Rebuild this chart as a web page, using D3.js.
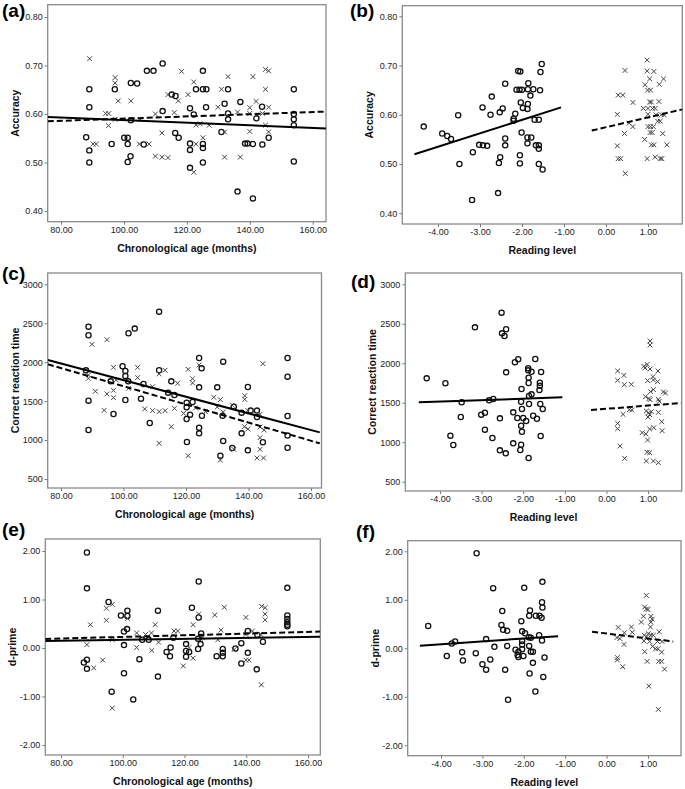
<!DOCTYPE html>
<html>
<head>
<meta charset="utf-8">
<title>Accuracy, reaction time and d-prime by age and reading level</title>
<script src="https://cdnjs.cloudflare.com/ajax/libs/d3/7.8.5/d3.min.js"></script>
<style>
    body { margin: 0; background: #fff; }
    svg text { font-family: Arial, "Liberation Sans", sans-serif; }
    .tick text { font-size: 9px; fill: #222; }
    .tick line { stroke: #777; }
    .frame { fill: none; stroke: #8a8a8a; stroke-width: 1.3px; }
    .axis-title { font-size: 10.5px; font-weight: bold; fill: #111; }
    .panel-label { font-size: 19px; font-weight: bold; fill: #000; }
    .circle { fill: none; stroke: #111; stroke-width: 1.3px; }
    .cross { fill: none; stroke: #444; stroke-width: 1px; }
    .fit { fill: none; stroke: #000; stroke-width: 2px; }
</style>
</head>
<body>
<svg id="chart" width="685" height="789"></svg>
<script>
// ---- data: circles = first group, crosses = second group ----
// (a) accuracy vs chronological age
const aCircles = [[89.0,0.651],[89.0,0.614],[88.0,0.552],[89.0,0.525],[89.0,0.500],[97.1,0.651],[96.1,0.538],[102.2,0.664],[104.2,0.663],[107.3,0.689],[109.4,0.689],[112.3,0.704],[112.3,0.606],[102.2,0.587],[100.1,0.551],[101.2,0.551],[101.2,0.538],[102.1,0.513],[101.2,0.501],[106.3,0.537],[115.2,0.640],[116.4,0.637],[116.3,0.561],[117.4,0.551],
    [125.1,0.689],[122.9,0.651],[125.1,0.651],[126.2,0.651],[133.1,0.651],[154.0,0.651],[121.0,0.612],[126.1,0.614],[132.0,0.621],[137.0,0.625],[122.2,0.599],[133.1,0.601],[133.1,0.589],[143.9,0.615],[142.1,0.591],[154.0,0.600],[154.0,0.589],[154.0,0.577],[131.0,0.563],[121.0,0.539],[121.0,0.526],[125.1,0.538],[125.1,0.530],[138.5,0.539],[139.3,0.539],[141.0,0.538],[144.0,0.537],[146.0,0.551],[125.1,0.500],[121.0,0.489],[154.0,0.502],[136.1,0.440],[141.0,0.426]];
const aCrosses = [[89.1,0.714],[97.2,0.675],[97.2,0.664],[98.2,0.627],[102.2,0.627],[94.2,0.601],[95.2,0.601],[95.1,0.576],[97.2,0.589],[90.2,0.538],[91.2,0.538],[104.9,0.538],[108.0,0.538],[110.0,0.600],[112.1,0.561],[110.0,0.513],[112.1,0.511],[114.0,0.510],[114.0,0.640],[116.0,0.603],[117.3,0.627],[118.3,0.688],[120.4,0.640],[105.2,0.589],
    [122.2,0.666],[133.1,0.677],[141.0,0.677],[145.0,0.692],[146.0,0.689],[131.0,0.651],[145.0,0.651],[129.9,0.614],[136.1,0.604],[140.0,0.613],[142.0,0.626],[140.0,0.601],[144.0,0.601],[146.0,0.614],[122.9,0.577],[124.2,0.580],[127.1,0.577],[145.0,0.577],[132.0,0.563],[140.0,0.564],[146.0,0.563],[122.9,0.538],[125.1,0.551],[132.0,0.511],[137.0,0.511],[122.2,0.480]];
const aSolid = [[75.8,0.594],[164.2,0.570]];
const aDashed = [[75.8,0.585],[164.2,0.605]];

// (b) accuracy vs reading level
const bCircles = [[-4.34,0.576],[-3.90,0.562],[-3.78,0.557],[-3.69,0.551],[-3.52,0.599],[-3.49,0.500],[-3.17,0.524],[-3.19,0.427],[-3.02,0.539],[-2.93,0.538],[-2.83,0.537],[-2.94,0.615],[-2.75,0.600],[-2.72,0.637],[-2.53,0.605],[-2.46,0.613],[-2.40,0.663],[-2.40,0.552],[-2.40,0.538],[-2.52,0.514],[-2.55,0.502],[-2.57,0.441],
    [-2.09,0.689],[-2.04,0.688],[-2.13,0.651],[-2.06,0.651],[-2.00,0.651],[-1.86,0.652],[-1.73,0.652],[-1.57,0.650],[-1.85,0.664],[-1.80,0.639],[-1.56,0.687],[-1.53,0.703],[-2.03,0.625],[-1.86,0.622],[-1.98,0.614],[-1.87,0.612],[-2.16,0.602],[-2.20,0.592],[-2.20,0.588],[-1.70,0.590],[-1.60,0.590],[-2.01,0.564],[-1.87,0.554],[-1.78,0.554],[-1.87,0.542],[-1.67,0.538],[-1.60,0.538],[-1.60,0.531],[-2.05,0.518],[-2.05,0.501],[-1.60,0.500],[-1.51,0.489]];
const bCrosses = [[0.98,0.711],[0.45,0.690],[0.98,0.689],[1.14,0.688],[1.04,0.673],[1.37,0.673],[0.93,0.661],[1.27,0.662],[0.99,0.650],[1.06,0.650],[0.29,0.640],[0.40,0.640],[0.64,0.625],[1.04,0.626],[1.08,0.626],[1.26,0.627],[0.89,0.613],[1.00,0.613],[1.11,0.613],[1.17,0.613],[0.27,0.601],[1.00,0.601],[1.19,0.600],[1.32,0.600],[1.38,0.600],[1.23,0.587],[1.29,0.587],[0.55,0.583],[0.64,0.576],[1.00,0.576],[1.06,0.576],[1.13,0.576],[0.44,0.562],[1.05,0.564],[1.10,0.564],[1.35,0.562],[0.92,0.550],[1.08,0.539],[1.14,0.539],[1.45,0.539],[0.27,0.537],[0.29,0.511],[0.35,0.511],[0.98,0.511],[1.17,0.514],[1.29,0.511],[1.33,0.511],[0.46,0.481]];
const bSolid = [[-4.56,0.520],[-1.07,0.615]];
const bDashed = [[-0.34,0.568],[1.82,0.611]];

// (c) correct reaction time vs chronological age
const cCircles = [[88.8,2456],[88.8,2345],[88.8,1506],[88.8,1129],[88.0,1895],[95.9,1754],[96.8,1335],[99.7,1947],[100.6,1887],[100.6,1823],[101.5,1754],[101.6,2371],[103.6,2431],[100.6,1514],[105.6,1532],[106.4,1720],[108.4,1219],[111.4,2649],[111.4,1896],[115.3,1754],[114.3,1609],[116.3,1579],[120.3,975],
    [124.2,2054],[125.0,1921],[131.9,2007],[152.5,2054],[152.5,1814],[124.2,1677],[130.0,1677],[139.8,1681],[120.2,1480],[120.2,1420],[122.1,1489],[120.2,1270],[121.3,1326],[125.1,1313],[131.7,1313],[135.3,1429],[137.8,1352],[140.7,1378],[142.7,1378],[142.7,1296],[152.5,1309],[124.2,1159],[124.2,1086],[137.8,1086],[144.6,971],[152.5,1057],[152.5,902],[131.9,988],[134.8,898],[139.8,868],[131.0,800]];
const cCrosses = [[89.9,2229],[94.7,2289],[88.8,1836],[88.8,1793],[91.0,1626],[93.8,1382],[94.7,1592],[96.8,1639],[96.8,1544],[96.8,1934],[97.7,1771],[101.6,1664],[104.5,1934],[104.5,1801],[106.8,1399],[109.3,1686],[109.3,1378],[111.4,1365],[113.3,1378],[113.3,1896],[111.4,1849],[115.3,1172],[116.3,1407],[117.3,1729],[119.2,1343],[111.4,958],[120.7,800],[120.7,1908],
    [124.2,1964],[122.1,1788],[122.1,1733],[128.9,1549],[131.0,1519],[130.0,1424],[123.1,1412],[134.8,1446],[138.8,1570],[138.8,1523],[139.8,1378],[144.6,1981],[126.2,1365],[131.9,1360],[143.7,1330],[143.7,1168],[145.0,1129],[138.7,1172],[139.8,1142],[143.7,1031],[135.3,881],[143.7,881],[142.7,770],[144.8,770],[131.0,744]];
const cSolid = [[75.8,2028],[162.8,1099]];
const cDashed = [[75.8,1973],[162.8,958]];

// (d) correct reaction time vs reading level
const dCircles = [[-4.32,1809],[-3.87,1746],[-3.48,1505],[-3.50,1319],[-3.75,1083],[-3.68,965],[-3.16,2455],[-3.01,1349],[-2.92,1374],[-2.92,1159],[-2.82,1530],[-2.72,1547],[-2.74,1053],[-2.56,1302],[-2.52,2641],[-2.51,2379],[-2.45,2345],[-2.41,2430],[-2.41,1885],[-2.56,897],[-2.42,859],[-2.24,1378],[-2.24,986],
    [-2.12,2050],[-2.20,2012],[-1.71,2054],[-1.88,1936],[-1.88,1910],[-1.80,1893],[-1.57,1889],[-1.87,1818],[-1.87,1750],[-1.60,1754],[-1.60,1716],[-1.61,1661],[-2.04,1674],[-1.80,1606],[-1.86,1585],[-2.05,1513],[-1.86,1484],[-1.59,1484],[-1.53,1421],[-2.03,1421],[-2.14,1307],[-2.00,1307],[-1.93,1269],[-1.76,1336],[-1.67,1298],[-2.05,1209],[-2.03,1133],[-1.58,1079],[-2.05,969],[-2.07,901],[-1.87,800]];
const dCrosses = [[1.05,2282],[1.05,2231],[0.27,1902],[0.27,1784],[0.42,1847],[0.43,1729],[0.60,1733],[0.90,1961],[0.98,1986],[0.93,1940],[1.05,1927],[0.99,1780],[1.12,1830],[1.13,1788],[1.24,1902],[1.23,1767],[0.94,1577],[1.02,1552],[1.05,1539],[1.06,1640],[1.13,1666],[1.25,1543],[1.27,1518],[1.37,1636],[1.42,1623],[0.55,1412],[0.61,1408],[0.40,1353],[0.96,1395],[1.01,1370],[1.04,1349],[1.00,1319],[1.08,1387],[1.25,1378],[1.33,1260],[0.27,1239],[0.27,1171],[1.04,1167],[1.14,1184],[0.86,1121],[0.95,1104],[1.34,1146],[0.99,1028],[0.33,952],[0.44,796],[0.98,872],[1.04,867],[0.96,762],[1.13,762],[1.25,741]];
const dSolid = [[-4.51,1505],[-1.06,1568]];
const dDashed = [[-0.37,1408],[1.79,1497]];

// (e) d-prime vs chronological age
const eCircles = [[88.4,1.97],[88.4,1.23],[95.4,0.95],[99.4,0.67],[101.5,0.77],[101.5,0.66],[101.4,0.39],[100.4,0.34],[100.4,0.06],[111.4,0.77],[88.4,-0.24],[87.4,-0.30],[88.4,-0.43],[105.4,-0.23],[100.4,-0.52],[96.4,-0.90],[103.4,-1.06],[111.4,-0.59],[106.3,0.17],[108.4,0.17],[114.2,-0.08],[115.5,0.01],[115.3,-0.17],[116.4,0.21],[120.5,0.08],[120.5,-0.06],[120.5,-0.18],
    [124.6,1.37],[122.4,0.83],[124.6,0.63],[153.3,1.24],[153.3,0.67],[153.3,0.60],[153.3,0.53],[153.3,0.48],[153.3,0.45],[125.4,0.30],[124.4,0.19],[121.5,-0.08],[124.4,-0.02],[125.2,0.08],[132.4,-0.02],[132.4,-0.10],[132.4,-0.17],[130.4,-0.17],[136.5,-0.01],[138.4,0.10],[140.5,0.35],[138.4,-0.32],[140.5,-0.10],[143.4,-0.44],[143.6,0.27],[145.4,0.13]];
const eCrosses = [[94.7,0.82],[96.6,0.90],[94.7,0.57],[89.5,0.48],[88.4,0.07],[90.6,-0.41],[93.5,-0.25],[96.6,-1.24],[101.5,0.61],[96.6,0.17],[104.5,0.31],[104.5,0.01],[107.4,0.28],[109.3,0.31],[109.4,-0.05],[110.5,0.48],[111.6,0.12],[116.6,0.35],[117.8,0.35],[119.6,-0.37],
    [124.6,0.70],[122.8,0.48],[129.8,0.68],[132.9,0.84],[139.9,0.63],[145.0,0.86],[146.1,0.83],[146.1,0.70],[146.1,0.58],[122.8,-0.21],[131.8,0.37],[130.8,0.17],[125.8,0.21],[125.1,0.20],[121.5,0.01],[136.1,-0.03],[139.9,0.28],[142.0,0.35],[139.9,-0.25],[140.9,-0.25],[144.7,0.28],[144.9,-0.76]];
const eSolid = [[74.9,0.145],[164.0,0.234]];
const eDashed = [[74.9,0.186],[164.0,0.338]];

// (f) d-prime vs reading level
const fCircles = [[-4.31,0.46],[-3.86,-0.16],[-3.74,0.10],[-3.66,0.14],[-3.49,-0.08],[-3.47,-0.25],[-3.16,-0.10],[-3.14,1.96],[-2.91,0.19],[-3.00,-0.33],[-2.91,-0.44],[-2.81,-0.23],[-2.74,1.24],[-2.71,0.03],[-2.52,0.77],[-2.54,0.48],[-2.50,0.38],[-2.40,0.36],[-2.40,0.05],[-2.45,-0.44],[-2.38,-1.06],
    [-1.99,1.25],[-1.55,1.37],[-1.56,0.95],[-1.55,0.84],[-1.85,0.78],[-1.87,0.67],[-1.71,0.67],[-1.62,0.67],[-1.57,0.63],[-2.06,0.56],[-2.04,0.35],[-1.97,0.31],[-1.63,0.27],[-1.88,0.23],[-1.83,0.22],[-2.04,0.15],[-2.04,0.08],[-1.56,0.16],[-2.20,-0.03],[-2.13,-0.07],[-2.04,-0.02],[-1.87,0.05],[-1.83,-0.07],[-1.78,-0.07],[-2.15,-0.14],[-2.13,-0.18],[-2.01,-0.16],[-1.78,-0.30],[-1.50,-0.19],[-1.86,-0.52],[-1.53,-0.59],[-1.72,-0.89]];
const fCrosses = [[0.96,1.09],[0.92,0.85],[0.96,0.81],[1.00,0.80],[0.89,0.66],[1.07,0.66],[1.10,0.60],[0.84,0.54],[1.07,0.54],[1.06,0.44],[0.60,0.44],[0.62,0.33],[0.28,0.43],[0.43,0.32],[0.25,0.22],[0.32,0.20],[0.42,0.08],[0.91,0.27],[0.96,0.23],[1.01,0.30],[1.07,0.27],[1.13,0.27],[1.27,0.34],[0.90,0.15],[1.04,0.14],[1.23,0.14],[1.34,0.14],[1.11,0.04],[1.18,-0.01],[1.24,-0.01],[1.33,-0.08],[0.92,-0.07],[0.26,-0.19],[0.26,-0.24],[0.39,-0.38],[0.98,-0.27],[1.26,-0.27],[1.33,-0.27],[1.40,-0.43],[1.02,-0.78],[1.25,-1.26]];
const fSolid = [[-4.51,0.055],[-1.17,0.25]];
const fDashed = [[-0.35,0.34],[1.61,0.14]];

// tick values
const ageTicks = [80, 100, 120, 140, 160];
const readingTicks = [-4, -3, -2, -1, 0, 1];
const accuracyTicks = [0.4, 0.5, 0.6, 0.7, 0.8];
const rtTicks = [500, 1000, 1500, 2000, 2500, 3000];
const dprimeTicks = [-2, -1, 0, 1, 2];

const fmt2 = d => d.toFixed(2);
const fmt0 = d => String(d);

// ---- layout per panel (frame box + pixel anchors for the scales) ----
const panels = [
    { label: "(a)", lab: [2, 17], frame: [47.7, 4.7, 326, 221.7],
      xRef: [80, 160], xPix: [61, 312.7], yRef: [0.4, 0.8], yPix: [211, 17],
      xTicks: ageTicks, yTicks: accuracyTicks, xFmt: fmt2, yFmt: fmt2,
      xTitle: "Chronological age (months)", yTitle: "Accuracy",
      circles: aCircles, crosses: aCrosses, solid: aSolid, dashed: aDashed },
    { label: "(b)", lab: [350, 17], frame: [402.3, 5.7, 682.3, 224],
      xRef: [-4, 1], xPix: [438, 648], yRef: [0.4, 0.8], yPix: [213.3, 16.3],
      xTicks: readingTicks, yTicks: accuracyTicks, xFmt: fmt2, yFmt: fmt2,
      xTitle: "Reading level", yTitle: "Accuracy",
      circles: bCircles, crosses: bCrosses, solid: bSolid, dashed: bDashed },
    { label: "(c)", lab: [2, 280], frame: [47.7, 273, 321.5, 488],
      xRef: [80, 160], xPix: [61, 311], yRef: [500, 3000], yPix: [479, 284.3],
      xTicks: ageTicks, yTicks: rtTicks, xFmt: fmt2, yFmt: fmt0,
      xTitle: "Chronological age (months)", yTitle: "Correct reaction time",
      circles: cCircles, crosses: cCrosses, solid: cSolid, dashed: cDashed },
    { label: "(d)", lab: [351, 288], frame: [405.3, 273, 681.7, 491],
      xRef: [-4, 1], xPix: [440, 648], yRef: [500, 3000], yPix: [481.7, 284.3],
      xTicks: readingTicks, yTicks: rtTicks, xFmt: fmt2, yFmt: fmt0,
      xTitle: "Reading level", yTitle: "Correct reaction time",
      circles: dCircles, crosses: dCrosses, solid: dSolid, dashed: dDashed },
    { label: "(e)", lab: [2, 536], frame: [45.3, 539, 320.3, 755],
      xRef: [80, 160], xPix: [61, 308], yRef: [-2, 2], yPix: [745, 551],
      xTicks: ageTicks, yTicks: dprimeTicks, xFmt: fmt2, yFmt: fmt2,
      xTitle: "Chronological age (months)", yTitle: "d-prime",
      circles: eCircles, crosses: eCrosses, solid: eSolid, dashed: eDashed },
    { label: "(f)", lab: [356, 538], frame: [407.7, 540.7, 681, 755.7],
      xRef: [-4, 1], xPix: [441, 648], yRef: [-2, 2], yPix: [745.3, 551.3],
      xTicks: readingTicks, yTicks: dprimeTicks, xFmt: fmt2, yFmt: fmt2,
      xTitle: "Reading level", yTitle: "d-prime",
      circles: fCircles, crosses: fCrosses, solid: fSolid, dashed: fDashed }
];

const svg = d3.select("#chart");
const crossPath = "M-2.4,-2.4L2.4,2.4M-2.4,2.4L2.4,-2.4";

panels.forEach((p, i) => {
    const [fx0, fy0, fx1, fy1] = p.frame;
    const x = d3.scaleLinear().domain(p.xRef).range(p.xPix);
    const y = d3.scaleLinear().domain(p.yRef).range(p.yPix);
    const g = svg.append("g");

    const clipId = "clip" + i;
    svg.append("clipPath").attr("id", clipId)
        .append("rect")
        .attr("x", fx0).attr("y", fy0)
        .attr("width", fx1 - fx0).attr("height", fy1 - fy0);

    // y axis
    g.append("g")
        .attr("transform", `translate(${fx0},0)`)
        .call(d3.axisLeft(y).tickValues(p.yTicks).tickFormat(p.yFmt).tickSize(3).tickPadding(2))
        .call(a => a.select(".domain").remove());

    // x axis
    g.append("g")
        .attr("transform", `translate(0,${fy1})`)
        .call(d3.axisBottom(x).tickValues(p.xTicks).tickFormat(p.xFmt).tickSize(3).tickPadding(2))
        .call(a => a.select(".domain").remove());

    g.append("rect").attr("class", "frame")
        .attr("x", fx0).attr("y", fy0)
        .attr("width", fx1 - fx0).attr("height", fy1 - fy0);

    const plot = g.append("g").attr("clip-path", `url(#${clipId})`);

    // markers
    plot.selectAll(".circle").data(p.circles).enter()
        .append("circle").attr("class", "circle")
        .attr("cx", d => x(d[0])).attr("cy", d => y(d[1]))
        .attr("r", 2.6);

    plot.selectAll(".cross").data(p.crosses).enter()
        .append("path").attr("class", "cross")
        .attr("transform", d => `translate(${x(d[0])},${y(d[1])})`)
        .attr("d", crossPath);

    // fit lines
    const line = d3.line().x(d => x(d[0])).y(d => y(d[1]));
    plot.append("path").attr("class", "fit").attr("d", line(p.solid));
    plot.append("path").attr("class", "fit")
        .attr("stroke-dasharray", "6,3")
        .attr("d", line(p.dashed));

    // titles
    g.append("text").attr("class", "axis-title")
        .attr("x", (fx0 + fx1) / 2).attr("y", fy1 + 30)
        .attr("text-anchor", "middle")
        .text(p.xTitle);

    g.append("text").attr("class", "axis-title")
        .attr("transform", `translate(${fx0 - 29},${(fy0 + fy1) / 2}) rotate(-90)`)
        .attr("text-anchor", "middle")
        .text(p.yTitle);

    g.append("text").attr("class", "panel-label")
        .attr("x", p.lab[0]).attr("y", p.lab[1])
        .text(p.label);
});
</script>
</body>
</html>
